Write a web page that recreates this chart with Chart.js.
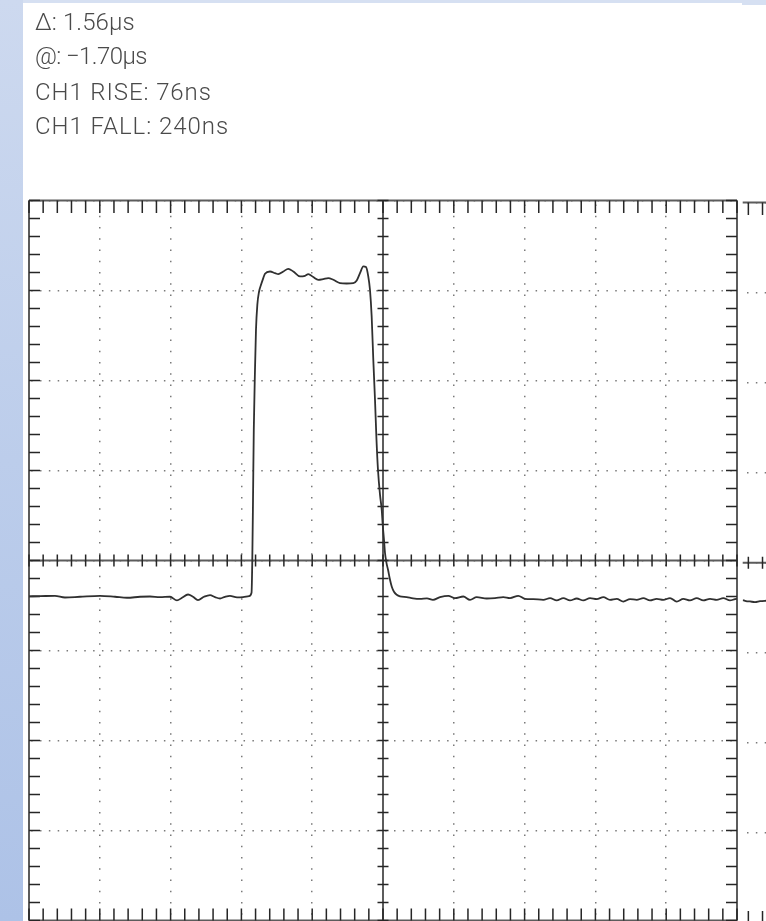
<!DOCTYPE html>
<html>
<head>
<meta charset="utf-8">
<script src="https://cdn.jsdelivr.net/npm/chart.js@4.4.1/dist/chart.umd.min.js"></script>
<style>
  html, body { margin: 0; padding: 0; }
  body {
    width: 766px; height: 921px; overflow: hidden; position: relative;
    background: #ffffff;
  }
  #sideband {
    position: absolute; left: 0; top: 0; width: 23px; height: 921px;
    background: linear-gradient(to bottom, #cdd9ef 0%, #bccdeb 50%, #adc2e7 100%);
  }
  #topband {
    position: absolute; left: 23px; top: 0; width: 720px; height: 3px; background: #d6e0f2;
  }
  #topband2 {
    position: absolute; left: 742px; top: 0; width: 24px; height: 5px; background: #d6e0f2;
  }
  #readout {
    position: absolute; left: 35px; top: 0;
    font-family: Roboto, "Liberation Sans", sans-serif; font-weight: 300;
    font-size: 24px; color: #4a4a4a;
  }
  #readout div { position: absolute; left: 0; white-space: nowrap; line-height: 24px; }
  canvas { position: absolute; }
  #scope { left: 0; top: 0; }
  #scope2 { left: 740px; top: 2px; }
</style>
</head>
<body>
<div id="sideband"></div>
<div id="topband"></div>
<div id="topband2"></div>
<canvas id="scope" width="766" height="921"></canvas>
<canvas id="scope2" width="40" height="921"></canvas>
<div id="readout">
  <div style="top:10px; letter-spacing:0.1px">Δ: 1.56µs</div>
  <div style="top:43.5px; letter-spacing:-0.6px">@: −1.70µs</div>
  <div style="top:80px; letter-spacing:0.9px">CH1 RISE: 76ns</div>
  <div style="top:113.5px; letter-spacing:0.95px">CH1 FALL: 240ns</div>
</div>
<script>
// Screen graticule: 10 horizontal x 8 vertical divisions, 5 minor ticks per division
const xDivisions = [-5, -4, -3, -2, -1, 0, 1, 2, 3, 4, 5];
const yDivisions = [-4, -3, -2, -1, 0, 1, 2, 3, 4];
const minorPerDivision = 5;

// CH1 trace, time and amplitude in screen divisions
const timeDiv = [
  -5.000, -4.845, -4.633, -4.492, -4.280, -3.997, -3.785, -3.616, -3.432, -3.291,
  -3.150, -3.008, -2.910, -2.839, -2.754, -2.684, -2.613, -2.528, -2.443, -2.373,
  -2.302, -2.232, -2.161, -2.062, -1.977, -1.893, -1.857, -1.846, -1.836, -1.825,
  -1.808, -1.794, -1.775, -1.751, -1.723, -1.691, -1.667, -1.596, -1.525, -1.479,
  -1.408, -1.338, -1.267, -1.172, -1.102, -1.055, -0.984, -0.914, -0.843, -0.773,
  -0.702, -0.607, -0.513, -0.419, -0.371, -0.325, -0.278, -0.240, -0.208, -0.184,
  -0.160, -0.137, -0.113, -0.092, -0.071, -0.042, -0.018, -0.004, 0.014, 0.028,
  0.049, 0.071, 0.099, 0.123, 0.155, 0.194, 0.240, 0.335, 0.424, 0.523,
  0.621, 0.706, 0.805, 0.922, 1.017, 1.134, 1.229, 1.323, 1.465, 1.582,
  1.699, 1.794, 1.911, 2.006, 2.123, 2.264, 2.359, 2.453, 2.547, 2.641,
  2.736, 2.830, 2.924, 3.018, 3.112, 3.206, 3.301, 3.395, 3.489, 3.583,
  3.677, 3.771, 3.866, 3.959, 4.054, 4.148, 4.242, 4.336, 4.431, 4.524,
  4.619, 4.713, 4.806, 4.901, 4.972, 5.000
];
const ch1Div = [
  -0.398, -0.396, -0.392, -0.411, -0.403, -0.392, -0.403, -0.414, -0.403, -0.400,
  -0.407, -0.403, -0.444, -0.414, -0.378, -0.403, -0.440, -0.403, -0.384, -0.407,
  -0.422, -0.403, -0.392, -0.409, -0.407, -0.396, -0.359, 0.008, 0.674, 1.452,
  2.119, 2.563, 2.841, 2.986, 3.063, 3.138, 3.186, 3.211, 3.193, 3.182,
  3.211, 3.241, 3.211, 3.156, 3.163, 3.182, 3.149, 3.119, 3.127, 3.138,
  3.119, 3.082, 3.078, 3.082, 3.111, 3.193, 3.267, 3.260, 3.156, 3.008,
  2.711, 2.230, 1.786, 1.341, 1.008, 0.730, 0.563, 0.397, 0.230, 0.086,
  -0.026, -0.103, -0.214, -0.289, -0.348, -0.381, -0.398, -0.407, -0.420, -0.426,
  -0.420, -0.437, -0.407, -0.392, -0.418, -0.400, -0.437, -0.407, -0.422, -0.418,
  -0.407, -0.418, -0.392, -0.426, -0.429, -0.437, -0.418, -0.444, -0.418, -0.444,
  -0.422, -0.444, -0.418, -0.429, -0.407, -0.437, -0.426, -0.456, -0.429, -0.437,
  -0.418, -0.444, -0.426, -0.437, -0.418, -0.456, -0.426, -0.444, -0.418, -0.444,
  -0.426, -0.437, -0.418, -0.444, -0.429, -0.426
];

// Adjacent screen strip to the right of the frame
const stripTimeDiv = [5.100, 5.147, 5.203, 5.274, 5.344, 5.429, 5.627];
const stripCh1Div = [-0.414, -0.426, -0.430, -0.437, -0.426, -0.422, -0.420];
const stripTicks = [5.18, 5.38];

function minorValues(divs) {
  const out = [];
  for (let i = 0; i < divs.length - 1; i++) {
    for (let k = 0; k < minorPerDivision; k++) {
      out.push(divs[i] + (divs[i + 1] - divs[i]) * k / minorPerDivision);
    }
  }
  out.push(divs[divs.length - 1]);
  return out;
}

// Frame, centre axes and their minor ticks
const graticule = {
  id: 'graticule',
  beforeDatasetsDraw(chart, args, opts) {
    const { ctx, chartArea: a, scales: { x, y } } = chart;
    const xm = opts.xMinor, ym = opts.yMinor;
    const cx = x.getPixelForValue(0), cy = y.getPixelForValue(0);
    ctx.save();
    ctx.lineCap = 'butt';
    // frame
    ctx.strokeStyle = '#5c5c5c';
    ctx.lineWidth = 2;
    ctx.beginPath();
    ctx.moveTo(a.left, a.top); ctx.lineTo(a.right, a.top);
    ctx.moveTo(a.left, a.bottom); ctx.lineTo(a.right, a.bottom);
    if (opts.sides) {
      ctx.moveTo(a.left, a.top); ctx.lineTo(a.left, a.bottom);
      ctx.moveTo(a.right, a.top); ctx.lineTo(a.right, a.bottom);
    }
    // centre axes
    ctx.moveTo(a.left, cy); ctx.lineTo(a.right, cy);
    if (opts.sides) { ctx.moveTo(cx, a.top); ctx.lineTo(cx, a.bottom); }
    ctx.stroke();
    // minor ticks
    ctx.strokeStyle = '#262626';
    ctx.lineWidth = 1.5;
    ctx.beginPath();
    xm.forEach(v => {
      const px = x.getPixelForValue(v);
      ctx.moveTo(px, a.top); ctx.lineTo(px, a.top + 12.5);
      ctx.moveTo(px, a.bottom); ctx.lineTo(px, a.bottom - 12);
      ctx.moveTo(px, cy - 6); ctx.lineTo(px, cy + 6);
    });
    if (opts.sides) {
      ym.forEach(v => {
        const py = y.getPixelForValue(v);
        ctx.moveTo(a.left, py); ctx.lineTo(a.left + 11, py);
        ctx.moveTo(a.right, py); ctx.lineTo(a.right - 11, py);
        ctx.moveTo(cx - 5.5, py); ctx.lineTo(cx + 5.5, py);
      });
    }
    ctx.stroke();
    ctx.restore();
  }
};

function scopeChart(id, times, values, xMin, xMax, pad, opts) {
  return new Chart(document.getElementById(id), {
    type: 'line',
    data: {
      datasets: [{
        data: times.map((t, i) => ({ x: t, y: values[i] })),
        borderColor: '#303030',
        borderWidth: 1.8,
        pointRadius: 0,
        cubicInterpolationMode: 'monotone',
        fill: false
      }]
    },
    options: {
      responsive: false,
      devicePixelRatio: 1,
      animation: false,
      events: [],
      layout: { padding: pad },
      plugins: { legend: { display: false }, tooltip: { enabled: false }, graticule: opts },
      scales: {
        x: {
          type: 'linear', min: xMin, max: xMax,
          afterBuildTicks: s => { s.ticks = xDivisions.map(v => ({ value: v })); },
          afterFit: s => { s.height = 0; },
          ticks: { display: false },
          grid: { display: opts.sides, drawTicks: false, color: '#7a7a7a', lineWidth: 1.5 },
          border: { display: false, dash: [1.5, 9.75], dashOffset: 7.3 }
        },
        y: {
          type: 'linear', min: -4, max: 4,
          afterBuildTicks: s => { s.ticks = yDivisions.map(v => ({ value: v })); },
          afterFit: s => { s.width = 0; },
          ticks: { display: false },
          grid: { drawTicks: false, color: '#7a7a7a', lineWidth: 1.5 },
          border: { display: false, dash: [1.5, 7.35], dashOffset: opts.hDashOffset }
        }
      }
    },
    plugins: [graticule]
  });
}

scopeChart('scope', timeDiv, ch1Div, -5, 5,
  { left: 29, right: 29, top: 200.5, bottom: 0.5 },
  { sides: true, xMinor: minorValues(xDivisions), yMinor: minorValues(yDivisions), hDashOffset: 6.7 });

scopeChart('scope2', stripTimeDiv, stripCh1Div, 5.10, 5.627,
  { left: 2.7, right: 0, top: 200.5, bottom: -1.5 },
  { sides: false, xMinor: stripTicks, yMinor: [], hDashOffset: 4.85 });
</script>
</body>
</html>
